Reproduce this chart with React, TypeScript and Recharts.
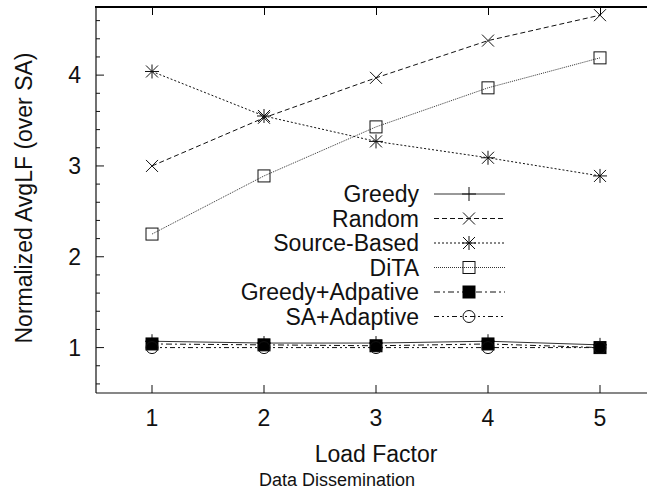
import React from 'react';
import { LineChart, Line, XAxis, YAxis } from 'recharts';

const loadFactors = [1, 2, 3, 4, 5];
const greedy = [1.07, 1.05, 1.05, 1.07, 1.03];
const random = [3.0, 3.53, 3.97, 4.38, 4.66];
const sourceBased = [4.04, 3.55, 3.27, 3.09, 2.89];
const dita = [2.25, 2.89, 3.43, 3.86, 4.19];
const greedyAdaptive = [1.04, 1.03, 1.02, 1.04, 1.0];
const saAdaptive = [1.0, 1.0, 1.0, 1.0, 1.0];

const xTicks = [1, 2, 3, 4, 5];
const yTicks = [0.6, 0.8, 1, 1.2, 1.4, 1.6, 1.8, 2, 2.2, 2.4, 2.6, 2.8, 3, 3.2, 3.4, 3.6, 3.8, 4, 4.2, 4.4, 4.6];
const xDomain = [0.5, 5.5];

const FONT = '"Liberation Sans", Arial, Helvetica, sans-serif';
const INK = '#111';

// plot frame (px)
const PLOT_TOP = 7;
const PLOT_LEFT = 96;
const PLOT_BOTTOM = 393;
const CHART_W = 680;
const PLOT_W = CHART_W - 24 - PLOT_LEFT;

const data = loadFactors.map((lf, i) => ({
  lf,
  greedy: greedy[i],
  random: random[i],
  sourceBased: sourceBased[i],
  dita: dita[i],
  greedyAdaptive: greedyAdaptive[i],
  saAdaptive: saAdaptive[i],
}));

const series = [
  { key: 'greedy', name: 'Greedy', shape: 'plus', dash: undefined, color: '#333' },
  { key: 'random', name: 'Random', shape: 'cross', dash: '5 3', color: INK },
  { key: 'sourceBased', name: 'Source-Based', shape: 'star', dash: '2 2', color: INK },
  { key: 'dita', name: 'DiTA', shape: 'square', dash: '1 1', color: '#333' },
  { key: 'greedyAdaptive', name: 'Greedy+Adpative', shape: 'filledSquare', dash: '6 3 2 3', color: INK },
  { key: 'saAdaptive', name: 'SA+Adaptive', shape: 'circle', dash: '5 3 2 3 2 3', color: INK },
];

const drawMarker = (shape: string, cx: number, cy: number, key?: any) => {
  const s = 6;
  switch (shape) {
    case 'plus':
      return (
        <g key={key} stroke={INK} strokeWidth={1}>
          <line x1={cx - 7} x2={cx + 7} y1={cy} y2={cy} />
          <line x1={cx} x2={cx} y1={cy - 7} y2={cy + 7} />
        </g>
      );
    case 'cross':
      return (
        <g key={key} stroke={INK} strokeWidth={1}>
          <line x1={cx - s} x2={cx + s} y1={cy - s} y2={cy + s} />
          <line x1={cx - s} x2={cx + s} y1={cy + s} y2={cy - s} />
        </g>
      );
    case 'star':
      return (
        <g key={key} stroke={INK} strokeWidth={1}>
          <line x1={cx - s} x2={cx + s} y1={cy - s} y2={cy + s} />
          <line x1={cx - s} x2={cx + s} y1={cy + s} y2={cy - s} />
          <line x1={cx - 7} x2={cx + 7} y1={cy} y2={cy} />
          <line x1={cx} x2={cx} y1={cy - 7} y2={cy + 7} />
        </g>
      );
    case 'square':
      return <rect key={key} x={cx - s} y={cy - s} width={2 * s} height={2 * s} fill="none" stroke={INK} strokeWidth={1} />;
    case 'filledSquare':
      return <rect key={key} x={cx - s} y={cy - s} width={2 * s} height={2 * s} fill="#000" stroke="#000" />;
    default:
      return <circle key={key} cx={cx} cy={cy} r={s} fill="none" stroke={INK} strokeWidth={1} />;
  }
};

const dotFor = (shape: string) => (props: any) => drawMarker(shape, props.cx, props.cy, props.key ?? `${shape}-${props.index}`);

const BottomTick = ({ x, y, payload }: any) => (
  <g>
    <rect x={x - 0.5} y={y - 8} width={1} height={8} fill={INK} />
    <text x={x} y={y + 33} textAnchor="middle" fontSize={23} fontFamily={FONT} fill={INK}>
      {payload.value}
    </text>
  </g>
);

const LeftTick = ({ x, y, payload }: any) => {
  const v = payload.value;
  const major = Math.abs(v - Math.round(v)) < 1e-6;
  return (
    <g>
      <line x1={x} x2={x + (major ? 8 : 4)} y1={y} y2={y} stroke={INK} />
      {major && (
        <text x={x - 15} y={y + 8} textAnchor="end" fontSize={23} fontFamily={FONT} fill={INK}>
          {Math.round(v)}
        </text>
      )}
    </g>
  );
};

const Annotations = () => (
  <g fontFamily={FONT} fill={INK}>
    <text x={24} y={198} transform="rotate(-90 24 198)" textAnchor="middle" dominantBaseline="central" fontSize={23}>
      Normalized AvgLF (over SA)
    </text>
    <text x={376} y={462} textAnchor="middle" fontSize={23}>
      Load Factor
    </text>
    <text x={337} y={486} textAnchor="middle" fontSize={18}>
      Data Dissemination
    </text>
    {series.map((s, i) => {
      const cy = 194 + i * 24.5;
      return (
        <g key={s.key}>
          <text x={419} y={cy + 8} textAnchor="end" fontSize={23}>
            {s.name}
          </text>
          <line x1={434} x2={505} y1={cy} y2={cy} stroke={s.color} strokeWidth={1} strokeDasharray={s.dash} />
          {drawMarker(s.shape, 469, cy)}
        </g>
      );
    })}
  </g>
);

// top frame edge with mirrored inward ticks, laid over the chart
const TopFrame = () => (
  <>
    <div style={{ position: 'absolute', left: PLOT_LEFT - 1, top: PLOT_TOP - 1, width: 647 - PLOT_LEFT + 1, height: 2, background: '#000', zIndex: 5 }} />
    {xTicks.map((t) => (
      <div
        key={t}
        style={{
          position: 'absolute',
          left: PLOT_LEFT + ((t - xDomain[0]) / (xDomain[1] - xDomain[0])) * PLOT_W - 0.5,
          top: PLOT_TOP,
          width: 1,
          height: 8,
          background: '#000',
          zIndex: 5,
        }}
      />
    ))}
  </>
);

export default function App() {
  return (
    <div style={{ position: 'absolute', left: 0, top: 0, width: 647, height: 492, overflow: 'hidden', background: '#fff' }}>
      <LineChart
        width={CHART_W}
        height={492}
        data={data}
        margin={{ top: PLOT_TOP, right: 24, bottom: 492 - PLOT_BOTTOM - 30, left: PLOT_LEFT - 60 }}
      >
        <XAxis
          dataKey="lf"
          type="number"
          domain={xDomain}
          ticks={xTicks}
          interval={0}
          height={30}
          tickSize={0}
          tickMargin={0}
          tickLine={false}
          axisLine={{ stroke: INK, strokeWidth: 1.2 }}
          tick={<BottomTick />}
          allowDataOverflow
        />
        <YAxis
          type="number"
          domain={[0.5, 4.75]}
          ticks={yTicks}
          interval={0}
          width={60}
          tickSize={0}
          tickMargin={0}
          tickLine={false}
          axisLine={{ stroke: INK, strokeWidth: 1.2 }}
          tick={<LeftTick />}
          allowDataOverflow
        />
        {series.map((s) => (
          <Line
            key={s.key}
            dataKey={s.key}
            name={s.name}
            stroke={s.color}
            strokeWidth={1}
            strokeDasharray={s.dash}
            dot={dotFor(s.shape)}
            activeDot={false}
            isAnimationActive={false}
          />
        ))}
        <Annotations />
      </LineChart>
      <TopFrame />
    </div>
  );
}
